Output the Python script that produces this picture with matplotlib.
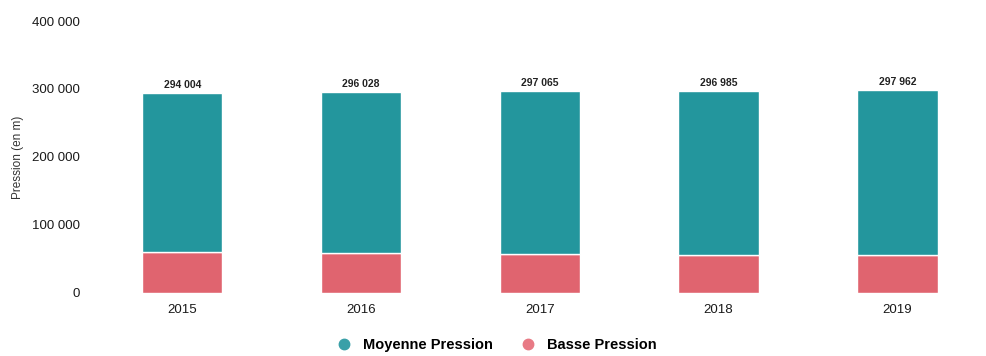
import numpy as np
import matplotlib
matplotlib.use('Agg')
import matplotlib.pyplot as plt
from matplotlib.lines import Line2D
from matplotlib.ticker import FuncFormatter

years = ['2015', '2016', '2017', '2018', '2019']
totals = [294004, 296028, 297065, 296985, 297962]
basse = [61000, 59500, 57500, 56500, 55500]
moyenne = [t - b for t, b in zip(totals, basse)]

teal = '#23969d'
pink = '#e0646f'

plt.rcParams['font.family'] = ['Liberation Sans', 'DejaVu Sans']

fig = plt.figure(figsize=(9.86, 3.56), dpi=100)
ax = fig.add_axes([0.096, 0.177, 0.903, 0.764])

x = np.arange(len(years))
w = 0.45
ax.bar(x, basse, w, color=pink, edgecolor='white', linewidth=1)
ax.bar(x, moyenne, w, bottom=basse, color=teal, edgecolor='white', linewidth=1)

for xi, t in zip(x, totals):
    ax.text(xi, t + 4500, f'{t:,}'.replace(',', ' '), ha='center', va='bottom',
            fontsize=7.5, fontweight='bold', color='#222222')

ax.set_xlim(-0.49, 4.49)
ax.set_ylim(0, 400000)
ax.set_yticks([0, 100000, 200000, 300000, 400000])
ax.yaxis.set_major_formatter(FuncFormatter(lambda v, p: f'{int(v):,}'.replace(',', ' ')))
ax.set_xticks(x)
ax.set_xticklabels(years)
ax.tick_params(length=0, labelsize=9.5, colors='#1a1a1a')
ax.tick_params(axis='x', pad=8)
ax.tick_params(axis='y', pad=10.5)
for s in ax.spines.values():
    s.set_visible(False)
ax.set_ylabel('Pression (en m)', fontsize=8.5, color='#333333', labelpad=6)

handles = [Line2D([], [], marker='o', ls='', color='#3aa0a8', markersize=7.5),
           Line2D([], [], marker='o', ls='', color='#e87a85', markersize=7.5)]
leg = fig.legend(handles, ['Moyenne Pression', 'Basse Pression'], loc='center',
                 bbox_to_anchor=(0.5, 0.03), ncol=2, frameon=False,
                 prop={'weight': 'bold', 'size': 10.5}, handletextpad=0.3,
                 columnspacing=1.4)

fig.savefig('out.png', dpi=100)
